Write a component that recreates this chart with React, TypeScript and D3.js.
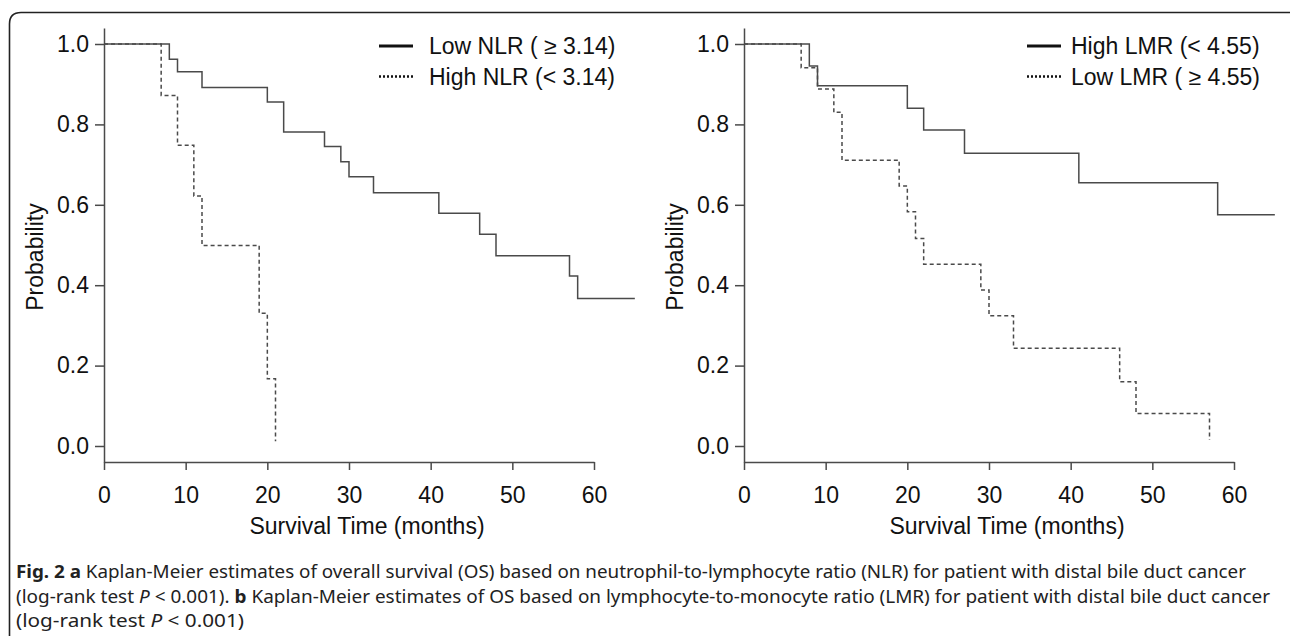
import React, { useRef, useEffect } from 'react';
import {
  select,
  scaleLinear,
  axisLeft,
  axisBottom,
  line,
  curveStepAfter,
  format,
} from 'd3';

// axis ticks
const timeTicks = [0, 10, 20, 30, 40, 50, 60];
const probTicks = [0, 0.2, 0.4, 0.6, 0.8, 1.0];

// panel a: NLR
const nlrLowTime = [0, 8, 9, 12, 20, 22, 27, 29, 30, 33, 41, 46, 48, 57, 58];
const nlrLowSurv = [1, 0.962, 0.931, 0.892, 0.856, 0.781, 0.745, 0.707, 0.67, 0.63, 0.579, 0.527, 0.473, 0.423, 0.367];
const nlrLowEnd = 65;
const nlrHighTime = [0, 7, 9, 11, 12, 19, 20, 21];
const nlrHighSurv = [1, 0.872, 0.748, 0.622, 0.499, 0.33, 0.167, 0.012];
const nlrHighEnd = 21;
const nlrLegend = ['Low NLR ( \u2265 3.14)', 'High NLR (< 3.14)'];

// panel b: LMR
const lmrHighTime = [0, 8, 9, 20, 22, 27, 41, 58];
const lmrHighSurv = [1, 0.945, 0.896, 0.84, 0.786, 0.728, 0.655, 0.575];
const lmrHighEnd = 65;
const lmrLowTime = [0, 7, 9, 11, 12, 19, 20, 21, 22, 29, 30, 33, 46, 48, 57];
const lmrLowSurv = [1, 0.941, 0.888, 0.83, 0.711, 0.647, 0.583, 0.516, 0.452, 0.388, 0.324, 0.243, 0.16, 0.081, 0.015];
const lmrLowEnd = 57;
const lmrLegend = ['High LMR (< 4.55)', 'Low LMR ( \u2265 4.55)'];

const xTitle = 'Survival Time (months)';
const yTitle = 'Probability';

const dim = {
  width: 1290,
  height: 636,
  top: 28,
  zeroY: 446,
  oneY: 44,
  axisY: 462,
  plotW: 490,
  font: 'Liberation Sans, Arial, sans-serif',
  fontSize: 23,
  ink: '#111',
  lineColor: '#4a4a4a',
};

interface Curve {
  time: number[];
  surv: number[];
  end: number;
  dashed: boolean;
}

interface Panel {
  x0: number;
  curves: Curve[];
  legend: string[];
  legendX: number;
  textX: number;
}

const panels: Panel[] = [
  {
    x0: 104,
    curves: [
      { time: nlrLowTime, surv: nlrLowSurv, end: nlrLowEnd, dashed: false },
      { time: nlrHighTime, surv: nlrHighSurv, end: nlrHighEnd, dashed: true },
    ],
    legend: nlrLegend,
    legendX: 379,
    textX: 429,
  },
  {
    x0: 744,
    curves: [
      { time: lmrHighTime, surv: lmrHighSurv, end: lmrHighEnd, dashed: false },
      { time: lmrLowTime, surv: lmrLowSurv, end: lmrLowEnd, dashed: true },
    ],
    legend: lmrLegend,
    legendX: 1027,
    textX: 1071,
  },
];

const App: React.FC = () => {
  const chartRef = useRef<SVGGElement>(null);

  useEffect(() => {
    const root = select(chartRef.current);
    root.selectAll('*').remove();

    // outer frame with rounded top-left corner
    root
      .append('path')
      .attr('d', `M9.5,${dim.height} V24 Q9.5,12.5 21,12.5 H${dim.width}`)
      .attr('fill', 'none')
      .attr('stroke', '#222')
      .attr('stroke-width', 1.6);

    const yScale = scaleLinear().domain([0, 1]).range([dim.zeroY, dim.oneY]);

    panels.forEach((p) => {
      const xScale = scaleLinear()
        .domain([0, 60])
        .range([p.x0, p.x0 + dim.plotW]);
      const g = root.append('g');

      // y axis, drawn a little past 0 and 1 like R does
      const yAxisScale = scaleLinear()
        .domain([yScale.invert(dim.axisY), yScale.invert(dim.top)])
        .range([dim.axisY, dim.top]);
      const yAxis = g
        .append('g')
        .attr('transform', `translate(${p.x0},0)`)
        .call(
          axisLeft(yAxisScale)
            .tickValues(probTicks)
            .tickFormat(format('.1f'))
            .tickSize(9)
            .tickSizeOuter(0)
            .tickPadding(6)
        );

      // x axis
      const xAxis = g
        .append('g')
        .attr('transform', `translate(0,${dim.axisY})`)
        .call(
          axisBottom(xScale)
            .tickValues(timeTicks)
            .tickSize(8)
            .tickSizeOuter(0)
            .tickPadding(17)
        );

      [yAxis, xAxis].forEach((a) => {
        a.selectAll('path, line')
          .attr('stroke', dim.lineColor)
          .attr('stroke-width', 1.5);
        a.selectAll('text')
          .attr('font-family', dim.font)
          .attr('font-size', dim.fontSize)
          .attr('fill', dim.ink);
      });

      // axis titles
      g.append('text')
        .attr('x', (xScale(0) + xScale(60)) / 2 + 18)
        .attr('y', 534)
        .attr('text-anchor', 'middle')
        .attr('font-family', dim.font)
        .attr('font-size', dim.fontSize)
        .attr('fill', dim.ink)
        .text(xTitle);

      g.append('text')
        .attr('transform', `translate(${p.x0 - 61},${yScale(0.47)}) rotate(-90)`)
        .attr('text-anchor', 'middle')
        .attr('font-family', dim.font)
        .attr('font-size', dim.fontSize)
        .attr('fill', dim.ink)
        .text(yTitle);

      // step curves
      const step = line<[number, number]>()
        .x((d) => xScale(d[0]))
        .y((d) => yScale(d[1]))
        .curve(curveStepAfter);

      p.curves.forEach((c) => {
        const pts: [number, number][] = c.time.map((t, i) => [t, c.surv[i]]);
        pts.push([c.end, c.surv[c.surv.length - 1]]);
        g.append('path')
          .attr('d', step(pts) || '')
          .attr('fill', 'none')
          .attr('stroke', dim.lineColor)
          .attr('stroke-width', 1.5)
          .attr('stroke-dasharray', c.dashed ? '4,3' : null);
      });

      // legend
      p.legend.forEach((label, i) => {
        const ly = 46 + i * 30.5;
        g.append('line')
          .attr('x1', p.legendX)
          .attr('x2', p.legendX + 34)
          .attr('y1', ly)
          .attr('y2', ly)
          .attr('stroke', '#111')
          .attr('stroke-width', i === 0 ? 2.8 : 2.4)
          .attr('stroke-dasharray', i === 0 ? null : '2,2');
        g.append('text')
          .attr('x', p.textX)
          .attr('y', ly + 8)
          .attr('font-family', dim.font)
          .attr('font-size', dim.fontSize)
          .attr('fill', dim.ink)
          .text(label);
      });
    });
  }, []);

  const cap = {
    fontFamily: 'Noto Sans, Open Sans, sans-serif',
    fontSize: 18,
    fill: '#222',
  };

  return (
    <svg
      width={dim.width}
      height={dim.height}
      style={{ position: 'absolute', left: 0, top: 0, background: '#fff' }}
    >
      <g ref={chartRef} />
      <g>
        <text x={16} y={578} {...cap} textLength={1230} lengthAdjust="spacingAndGlyphs">
          <tspan fontWeight="bold">Fig. 2 a</tspan> Kaplan-Meier estimates of overall survival (OS) based on
          neutrophil-to-lymphocyte ratio (NLR) for patient with distal bile duct cancer
        </text>
        <text x={16} y={603} {...cap} textLength={1254} lengthAdjust="spacingAndGlyphs">
          (log-rank test <tspan fontStyle="italic">P</tspan> &lt; 0.001). <tspan fontWeight="bold">b</tspan>{' '}
          Kaplan-Meier estimates of OS based on lymphocyte-to-monocyte ratio (LMR) for patient with distal bile
          duct cancer
        </text>
        <text x={16} y={627} {...cap} textLength={228} lengthAdjust="spacingAndGlyphs">
          (log-rank test <tspan fontStyle="italic">P</tspan> &lt; 0.001)
        </text>
      </g>
    </svg>
  );
};

export default App;
